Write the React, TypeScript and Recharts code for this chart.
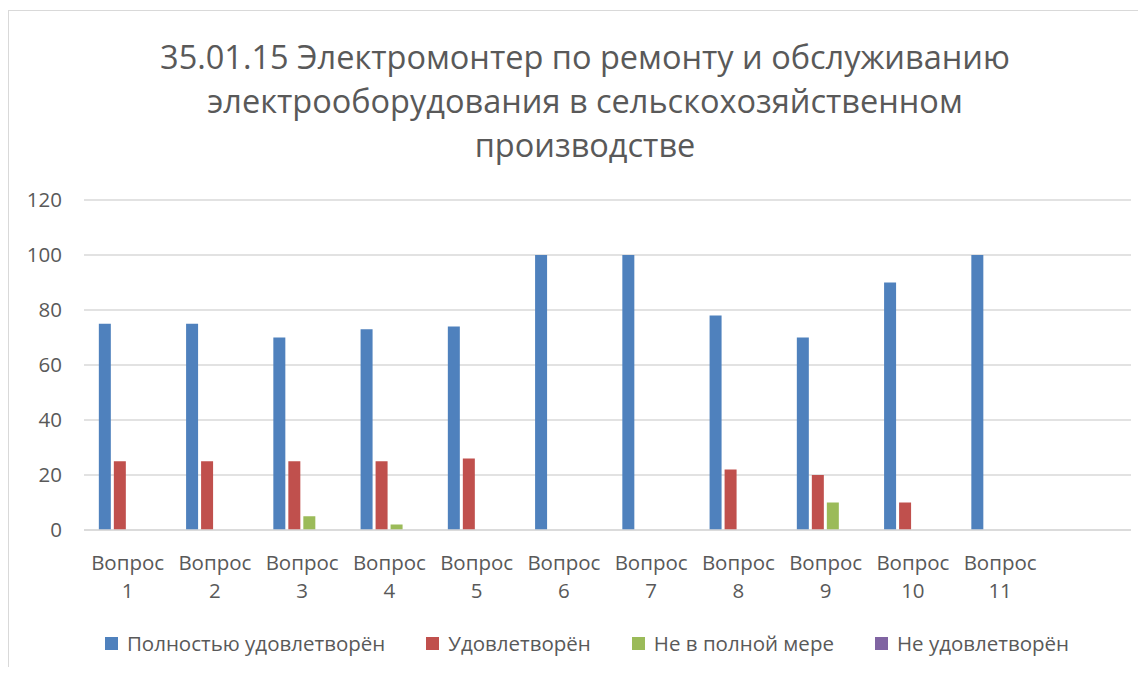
import React from "react";
import { BarChart, Bar, XAxis, YAxis, CartesianGrid } from "recharts";

const categories = ["Вопрос 1", "Вопрос 2", "Вопрос 3", "Вопрос 4", "Вопрос 5", "Вопрос 6", "Вопрос 7", "Вопрос 8", "Вопрос 9", "Вопрос 10", "Вопрос 11", ""];
const fullySatisfied = [75, 75, 70, 73, 74, 100, 100, 78, 70, 90, 100, null];
const satisfied = [25, 25, 25, 25, 26, 0, 0, 22, 20, 10, 0, null];
const notFully = [0, 0, 5, 2, 0, 0, 0, 0, 10, 0, 0, null];
const notSatisfied = [0, 0, 0, 0, 0, 0, 0, 0, 0, 0, 0, null];
const yTicks = [0, 20, 40, 60, 80, 100, 120];
const titleLines = [
  "35.01.15 Электромонтер по ремонту и обслуживанию",
  "электрооборудования в сельскохозяйственном",
  "производстве",
];
const seriesNames = ["Полностью удовлетворён", "Удовлетворён", "Не в полной мере", "Не удовлетворён"];
const seriesColors = ["#4F81BD", "#C0504D", "#9BBB59", "#8064A2"];
const seriesKeys = ["a", "b", "c", "d"];

const data = categories.map((name, i) => ({
  name,
  a: fullySatisfied[i],
  b: satisfied[i],
  c: notFully[i],
  d: notSatisfied[i],
}));

const FONT = "'Open Sans', sans-serif";
const TEXT = "#595959";

const XTick = (props: any) => {
  const { x, y, payload } = props;
  const parts = String(payload.value).split(" ");
  if (!payload.value) return null;
  return (
    <text x={x} y={y} textAnchor="middle" fill={TEXT} fontFamily={FONT} fontSize={20.5}>
      <tspan x={x} dy={32}>{parts[0]}</tspan>
      <tspan x={x} dy={28}>{parts[1]}</tspan>
    </text>
  );
};

export default function App() {
  return (
    <div style={{ position: "relative", width: 1130, height: 659, fontFamily: FONT }}>
      <div
        style={{
          position: "absolute",
          left: 0,
          top: 2,
          width: 1130,
          height: 657,
          borderLeft: "1px solid #d9d9d9",
          borderTop: "1px solid #d9d9d9",
          boxSizing: "border-box",
        }}
      />
      <div
        style={{
          position: "absolute",
          left: 27,
          top: 27,
          width: 1100,
          textAlign: "center",
          color: TEXT,
          fontSize: 32.5,
          lineHeight: "44px",
        }}
      >
        {titleLines.map((t, i) => (
          <div key={i} style={{ whiteSpace: "nowrap" }}>{t}</div>
        ))}
      </div>
      <div style={{ position: "absolute", left: 0, top: 0 }}>
        <BarChart
          width={1130}
          height={659}
          data={data}
          margin={{ top: 192, right: 7, left: 0, bottom: 107 }}
          barCategoryGap="17%"
          barGap={3}
        >
          <CartesianGrid vertical={false} stroke="#d9d9d9" strokeWidth={1.5} />
          <XAxis
            dataKey="name"
            height={30}
            axisLine={{ stroke: "#d9d9d9", strokeWidth: 1.5 }}
            tickLine={false}
            tick={<XTick />}
            interval={0}
          />
          <YAxis
            width={76}
            domain={[0, 120]}
            ticks={yTicks}
            axisLine={false}
            tickLine={false}
            tickMargin={16}
            tick={{ fill: TEXT, fontFamily: FONT, fontSize: 20.5 }}
          />
          {seriesKeys.map((k, i) => (
            <Bar key={k} dataKey={k} name={seriesNames[i]} fill={seriesColors[i]} isAnimationActive={false} />
          ))}
        </BarChart>
      </div>
      <div
        style={{
          position: "absolute",
          left: 29,
          top: 622,
          width: 1100,
          height: 26,
          display: "flex",
          justifyContent: "center",
          alignItems: "center",
          color: TEXT,
          fontSize: 20.5,
        }}
      >
        {seriesNames.map((n, i) => (
          <div key={n} style={{ display: "flex", alignItems: "center", marginLeft: i === 0 ? 0 : 41 }}>
            <div style={{ width: 13, height: 13, background: seriesColors[i], marginRight: 9 }} />
            <span style={{ whiteSpace: "nowrap" }}>{n}</span>
          </div>
        ))}
      </div>
    </div>
  );
}
